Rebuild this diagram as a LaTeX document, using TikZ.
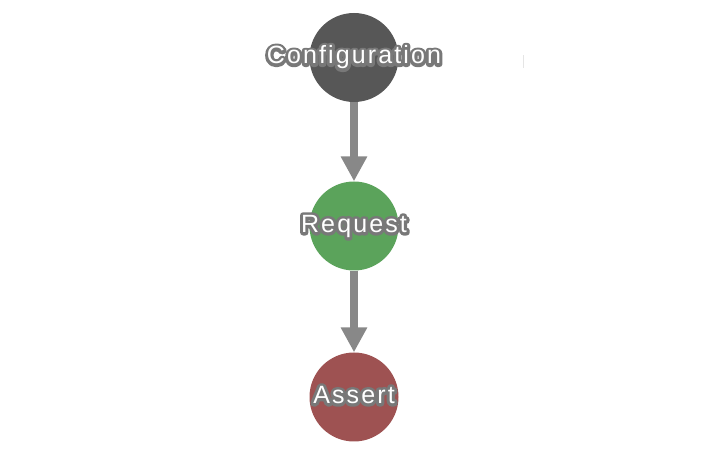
\documentclass[tikz,border=0pt]{standalone}
\usepackage{fontspec}
\setmainfont{Liberation Sans}[LetterSpace=8.5]
\usetikzlibrary{arrows.meta}
\definecolor{confgray}{HTML}{575757}
\definecolor{reqgreen}{HTML}{5BA35B}
\definecolor{assertred}{HTML}{9E5252}
\definecolor{linkgray}{HTML}{888888}
\definecolor{rimgray}{HTML}{787878}
% white text with a grey rim, kept from widening the circle
\newcommand{\rimtext}[1]{\smash{\raisebox{-6.5pt}{%
	\makebox[0pt]{\color{rimgray}\special{pdf:code 2 Tr 6 w 1 j}#1\special{pdf:code 0 Tr}}%
	\makebox[0pt]{\color{white}#1}}}}

\begin{document}
\begin{tikzpicture}[x=1pt,y=-1pt,
		stage/.style={circle, minimum size=89pt, inner sep=0pt,
			font=\fontsize{25}{25}\selectfont},
		link/.style={draw=linkgray, line width=8pt,
			-{Triangle[width=25pt,length=25pt]}}]
			%%%%% START %%%%%
			
			\useasboundingbox (0, 0) rectangle (713, 454);
			
			\node[stage, fill=confgray] (config) at (354, 57.5) {\rimtext{Configuration}};
			\node[stage, fill=reqgreen] (request) at (354, 226) {\rimtext{Request}};
			\node[stage, fill=assertred] (assert) at (354, 397) {\rimtext{Assert}};
			
			\draw[link] (config) -- (request);
			\draw[link] (request) -- (assert);
			
			\draw[line width=0.6pt, color=black!10] (523, 55) -- (523, 68);
			
			%%%%% END %%%%%
		\end{tikzpicture}
\end{document}
